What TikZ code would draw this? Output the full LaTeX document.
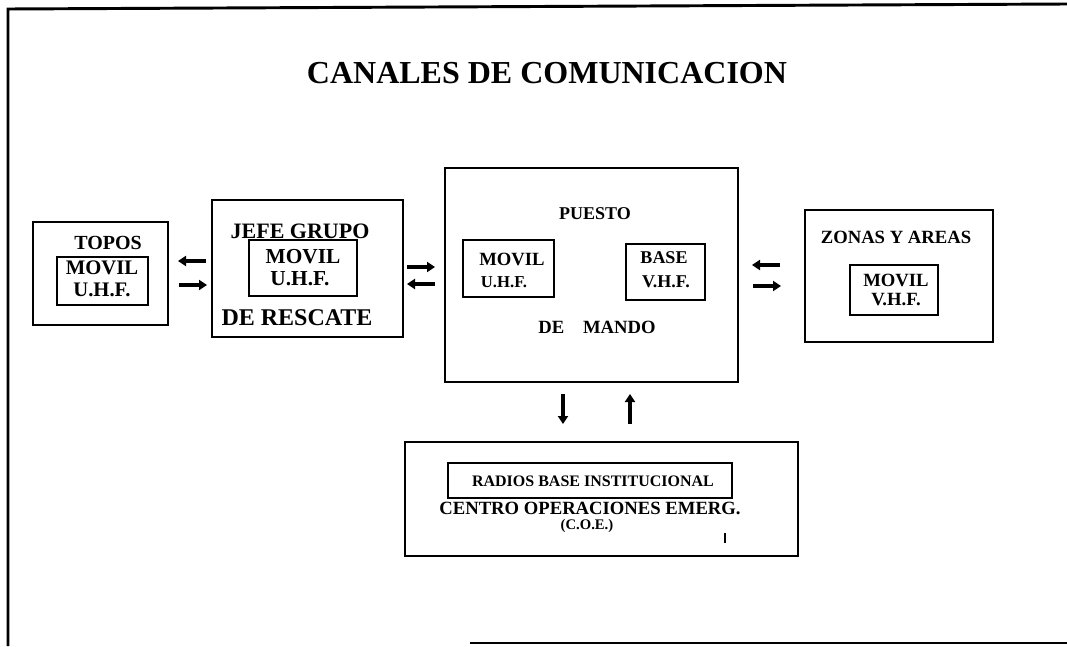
\documentclass[tikz,border=0pt]{standalone}
\usepackage{fontspec}
\setmainfont{Liberation Serif}
\usetikzlibrary{arrows.meta}
\begin{document}
\begin{tikzpicture}[x=0.75pt,y=-0.75pt,
  obox/.style={draw, line width=1.6pt, inner sep=0pt},
  ibox/.style={draw, line width=1.2pt, inner sep=0pt},
  lbl/.style={inner sep=0pt, font=\bfseries\fontsize{#1}{#1}\selectfont},
  lbl/.default=14,
  arr/.style={line width=2.4pt, -{Triangle[length=6pt,width=7.5pt]}},
  framel/.style={line width=2.2pt}]
\useasboundingbox (0,0) rectangle (1067,646);
% frame
\coordinate (f1) at (8,646);
\coordinate (f2) at (8,9);
\coordinate (f3) at (1067,4);
\coordinate (f4) at (470,643);
\coordinate (f5) at (1067,643);
\draw[framel] (f1) -- (f2) -- (f3);
\draw[framel] (f4) -- (f5);
% title
\node[lbl=24] (title) at (547,73) {CANALES DE COMUNICACION};
% TOPOS
\node[obox, minimum width=101.25pt, minimum height=77.25pt] (topos) at (100.5,273.5) {};
\node[ibox, minimum width=68.25pt, minimum height=36pt] (toposin) at (102.5,281) {};
\node[lbl=15] (toposT) at (108,243) {TOPOS};
\node[lbl=15.5] (toposM) at (102,268) {MOVIL};
\node[lbl=15.5] (toposU) at (102,290) {U.H.F.};
% JEFE
\node[obox, minimum width=143.25pt, minimum height=102.75pt] (jefe) at (307.5,268.5) {};
\node[ibox, minimum width=81pt, minimum height=42pt] (jefein) at (303,268) {};
\node[lbl=16.5] (jefeT) at (300,231) {JEFE GRUPO};
\node[lbl=16] (jefeM) at (303,257) {MOVIL};
\node[lbl=16] (jefeU) at (300,279) {U.H.F.};
\node[lbl=18] (jefeB) at (297,318) {DE RESCATE};
% PUESTO
\node[obox, minimum width=219.75pt, minimum height=160.5pt] (puesto) at (591.5,275) {};
\node[ibox, minimum width=68.25pt, minimum height=42.75pt] (pmovil) at (508.5,268.5) {};
\node[ibox, minimum width=59.25pt, minimum height=42pt] (pbase) at (665.5,272) {};
\node[lbl=13.5] (puestoT) at (595,214) {PUESTO};
\node[lbl=14] (pmovilM) at (512,259) {MOVIL};
\node[lbl=12.5] (pmovilU) at (504,282) {U.H.F.};
\node[lbl=13.5] (pbaseB) at (664,258) {BASE};
\node[lbl=13.5] (pbaseV) at (666,282) {V.H.F.};
\node[lbl=14] (puestoB) at (597,327) {DE\quad MANDO};
% ZONAS
\node[obox, minimum width=141pt, minimum height=99pt] (zonas) at (899,276) {};
\node[ibox, minimum width=66pt, minimum height=37.5pt] (zonasin) at (894,290) {};
\node[lbl=14] (zonasT) at (896,237) {ZONAS Y AREAS};
\node[lbl=14] (zonasM) at (896,280) {MOVIL};
\node[lbl=14] (zonasV) at (896,300) {V.H.F.};
% COE
\node[obox, minimum width=294.75pt, minimum height=85pt] (coe) at (601.5,499) {};
\node[ibox, minimum width=213pt, minimum height=26.25pt] (radios) at (590,480.5) {};
\node[lbl=12] (radiosT) at (593,481) {RADIOS BASE INSTITUCIONAL};
\node[lbl=14] (coeT) at (590,508) {CENTRO OPERACIONES EMERG.};
\node[lbl=11] (coeA) at (587,526) {(C.O.E.)};
\coordinate (t1) at (725,533);
\coordinate (t2) at (725,543);
\draw[line width=0.9pt] (t1) -- (t2);
% arrows TOPOS - JEFE
\coordinate (a1s) at (206,261); \coordinate (a1e) at (178,261);
\coordinate (a2s) at (179,285); \coordinate (a2e) at (207,285);
\draw[arr] (a1s) -- (a1e);
\draw[arr] (a2s) -- (a2e);
% arrows JEFE - PUESTO
\coordinate (a3s) at (407,267); \coordinate (a3e) at (435,267);
\coordinate (a4s) at (435,284); \coordinate (a4e) at (407,284);
\draw[arr] (a3s) -- (a3e);
\draw[arr] (a4s) -- (a4e);
% arrows PUESTO - ZONAS
\coordinate (a5s) at (780,265); \coordinate (a5e) at (752,265);
\coordinate (a6s) at (753,286); \coordinate (a6e) at (781,286);
\draw[arr] (a5s) -- (a5e);
\draw[arr] (a6s) -- (a6e);
% arrows PUESTO - COE
\coordinate (a7s) at (563,394); \coordinate (a7e) at (563,424);
\coordinate (a8s) at (630,424); \coordinate (a8e) at (630,394);
\draw[arr] (a7s) -- (a7e);
\draw[arr] (a8s) -- (a8e);
\end{tikzpicture}
\end{document}
